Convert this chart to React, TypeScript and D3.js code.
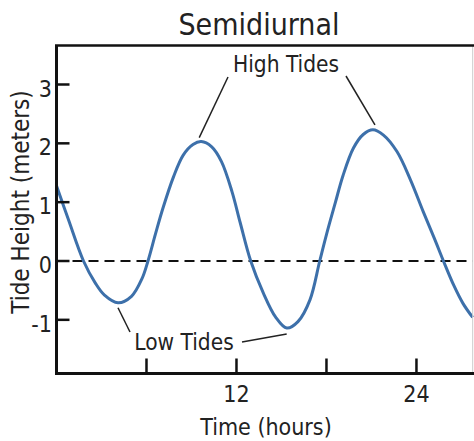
import React from "react";
import * as d3 from "d3";

const hours = [0, 0.8, 1.8, 2.6, 3.2, 4.1, 5.0, 5.7, 6.1, 6.6, 7.1, 7.8, 8.45, 9.1, 9.65, 10.35, 11.0, 11.7, 12.25, 12.95, 13.8, 14.6, 15.35, 16.1, 16.9, 17.55, 18.0, 18.6, 19.1, 19.8, 20.45, 21.1, 21.8, 22.7, 23.6, 24.45, 25.2, 25.8, 26.5, 27.1, 27.75];
const heights = [1.28, 0.7, 0.0, -0.38, -0.58, -0.71, -0.6, -0.3, 0.0, 0.46, 0.9, 1.43, 1.8, 1.98, 2.03, 1.94, 1.69, 1.18, 0.65, 0.0, -0.55, -0.95, -1.14, -1.03, -0.66, 0.0, 0.45, 1.0, 1.45, 1.92, 2.15, 2.23, 2.14, 1.86, 1.38, 0.84, 0.38, 0.0, -0.42, -0.72, -0.96];
const xTicks = [6, 12, 18, 24];
const xTickLabels = ["", "12", "", "24"];
const yTicks = [-1, 0, 1, 2, 3];
const title = "Semidiurnal";
const xTitle = "Time (hours)";
const yTitle = "Tide Height (meters)";

const FONT = '"DejaVu Sans Condensed", "DejaVu Sans", sans-serif';

export default function App() {
  const left = 56.5, right = 472.7, top = 45.5, bottom = 373.5;
  const x = d3.scaleLinear().domain([0, 27.75]).range([left, right]);
  const y = d3.scaleLinear().domain([0, 3]).range([261, 84.5]);
  const pts = hours.map((h, i) => [h, heights[i]] as [number, number]);
  const line = d3.line<[number, number]>().x(d => x(d[0])).y(d => y(d[1])).curve(d3.curveCatmullRom.alpha(0.5));
  const txt = "#222";
  const st = { fontStretch: "condensed" } as React.CSSProperties;
  return (
    <svg width={474} height={441} style={{ position: "absolute", left: 0, top: 0, background: "#fff" }} fontFamily={FONT}>
      <rect x={0} y={0} width={474} height={441} fill="#fff" />
      <text x={259} y={35} fontSize={30} textAnchor="middle" fill={txt} style={st}>{title}</text>
      <line x1={left} x2={right} y1={y(0)} y2={y(0)} stroke="#111" strokeWidth={2} strokeDasharray="10,6" />
      <path d={line(pts) || ""} fill="none" stroke="#3d70aa" strokeWidth={3} />
      <line x1={right} x2={right} y1={top} y2={bottom} stroke="#ccc" strokeWidth={1} />
      <line x1={left - 1.5} x2={474} y1={top} y2={top} stroke="#111" strokeWidth={2.5} />
      <line x1={left} x2={left} y1={top} y2={bottom + 1.5} stroke="#111" strokeWidth={3} />
      <line x1={left - 1.5} x2={474} y1={bottom} y2={bottom} stroke="#111" strokeWidth={3} />
      {yTicks.map(t => (
        <g key={"y" + t}>
          <line x1={left} x2={left + 13} y1={y(t)} y2={y(t)} stroke="#111" strokeWidth={2.5} />
          <text x={52} y={y(t) + 12} fontSize={23} textAnchor="end" fill={txt} style={st}>{t}</text>
        </g>
      ))}
      {xTicks.map((t, i) => (
        <g key={"x" + t}>
          <line x1={x(t)} x2={x(t)} y1={bottom} y2={bottom - 15} stroke="#111" strokeWidth={2.5} />
          <text x={x(t)} y={402} fontSize={23} textAnchor="middle" fill={txt} style={st}>{xTickLabels[i]}</text>
        </g>
      ))}
      <text x={266} y={435} fontSize={23} textAnchor="middle" fill={txt} style={st}>{xTitle}</text>
      <text transform={`translate(29,${202}) rotate(-90)`} fontSize={24} textAnchor="middle" fill={txt} style={st}>{yTitle}</text>
      <text x={286} y={72} fontSize={22.5} textAnchor="middle" fill={txt} style={st}>High Tides</text>
      <line x1={228} y1={77} x2={x(9.65) - 2} y2={y(2.03) - 4} stroke="#222" strokeWidth={1.5} />
      <line x1={346} y1={76} x2={x(21.1) + 2} y2={y(2.23) - 5} stroke="#222" strokeWidth={1.5} />
      <text x={184} y={350} fontSize={22.5} textAnchor="middle" fill={txt} style={st}>Low Tides</text>
      <line x1={x(4.1)} y1={y(-0.71) + 5} x2={130} y2={332} stroke="#222" strokeWidth={1.5} />
      <line x1={242} y1={342} x2={x(15.35)} y2={y(-1.14) + 6} stroke="#222" strokeWidth={1.5} />
    </svg>
  );
}
